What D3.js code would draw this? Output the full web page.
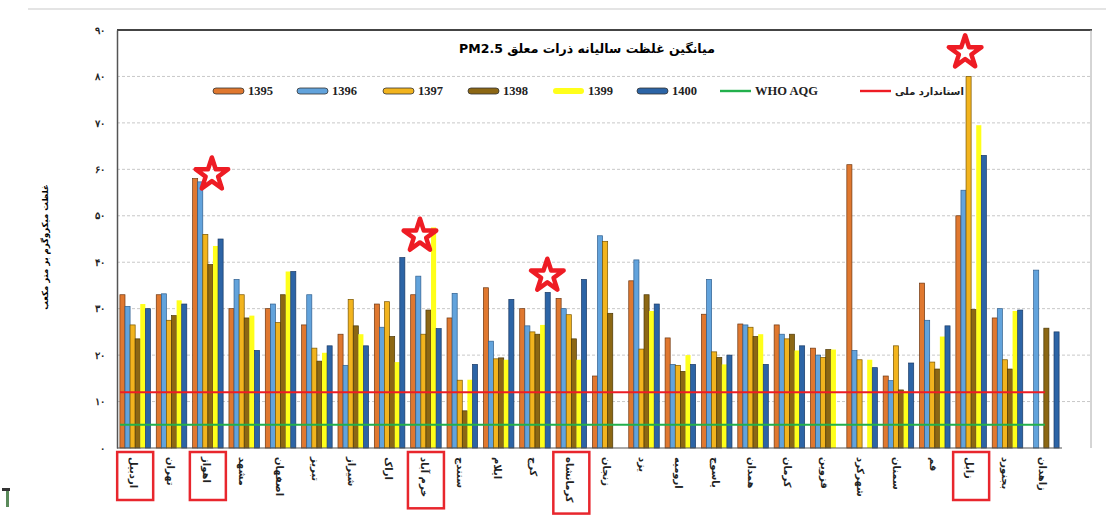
<!DOCTYPE html>
<html lang="fa">
<head>
<meta charset="utf-8">
<script src="https://cdn.jsdelivr.net/npm/d3@7/dist/d3.min.js"></script>
<style>
  body { margin: 0; background: #fff; }
  svg { display: block; font-family: "DejaVu Sans", "Noto Sans", sans-serif; }
</style>
</head>
<body>
<svg id="chart" width="1106" height="515"></svg>
<script>
// cities along the x axis
const cities = [
  "اردبیل", "تهران", "اهواز", "مشهد", "اصفهان", "تبریز", "شیراز", "اراک",
  "خرم آباد", "سنندج", "ایلام", "کرج", "کرمانشاه", "زنجان", "یزد", "ارومیه",
  "یاسوج", "همدان", "کرمان", "قزوین", "شهرکرد", "سمنان", "قم", "زابل",
  "بجنورد", "زاهدان"
];
const years = ["1395", "1396", "1397", "1398", "1399", "1400"];

// annual PM2.5 mean per year (null = no data)
const v1395 = [33, 33, 58, 30, 30, 26.5, 24.5, 31, 33, 28, 34.5, 30, 32.2, 15.5, 36, 23.7, 28.8, 26.7, 26.5, 21.5, 61, 15.5, 35.5, 50, 28, null];
const v1396 = [30.5, 33.2, 57.3, 36.3, 31, 33, 17.8, 26, 37, 33.3, 23, 26.3, 30, 45.7, 40.5, 18, 36.3, 26.5, 24.5, 20, 21, 14.5, 27.5, 55.5, 30, 38.3];
const v1397 = [26.5, 27.5, 46, 33, 27, 21.5, 32, 31.5, 24.5, 14.6, 19.2, 25, 28.7, 44.5, 21.3, 17.8, 20.7, 26, 23.5, 19.5, 19, 22, 18.5, 80, 19, null];
const v1398 = [23.5, 28.5, 39.5, 28, 33, 18.7, 26.3, 24, 29.7, 8, 19.4, 24.5, 23.5, 29, 33, 16.5, 19.5, 24, 24.5, 21.2, null, 12.5, 17, 29.8, 17, 25.8];
const v1399 = [31, 31.8, 43.5, 28.5, 38, 20.5, 24.5, 18.5, 47.5, 14.7, 19, 26.5, 19, null, 29.5, 20, 18, 24.5, 21, 21.2, 19, 12.3, 24, 69.5, 29.5, null];
const v1400 = [30, 31, 45, 21, 38, 22, 22, 41, 25.7, 18, 32, 33.5, 36.3, null, 31, 18, 20, 18, 22, null, 17.3, 18.3, 26.3, 63, 29.7, 25];
const series = [v1395, v1396, v1397, v1398, v1399, v1400];

// reference lines
const whoAqg = 5;
const nationalStd = 12;
const yTicks = [0, 10, 20, 30, 40, 50, 60, 70, 80, 90];
const marked = ["اردبیل", "اهواز", "خرم آباد", "کرمانشاه", "زابل"];
// star annotations: city, height on the value axis, sideways nudge (px)
const starred = [
  { city: "اهواز", value: 59.3, nudge: 4 },
  { city: "خرم آباد", value: 46.1, nudge: -6 },
  { city: "کرمانشاه", value: 37.5, nudge: -24 },
  { city: "زابل", value: 85.6, nudge: -6 }
];

const fills = ["#E0782F", "#62A3DC", "#F2B41E", "#8C6714", "#FFFF1A", "#2C64A6"];
const strokes = ["#6e3610", "#2f5f8f", "#7a5600", "#4d3805", "none", "#1a3a66"];

const svg = d3.select("#chart");
const plotLeft = 117, plotRight = 1062, plotTop = 30, plotBottom = 448;

const x = d3.scaleBand().domain(cities).range([plotLeft, plotRight]).paddingInner(0.16).paddingOuter(0.08);
const xs = d3.scaleBand().domain(d3.range(years.length)).range([0, x.bandwidth()]);
const y = d3.scaleLinear().domain([0, 90]).range([plotBottom, plotTop]);
const xc = (c) => x(c) + x.bandwidth() / 2;

const faDigits = (n) => String(n).replace(/\d/g, (d) => "۰۱۲۳۴۵۶۷۸۹"[d]);

// page separator line
svg.append("line").attr("x1", 28).attr("x2", 1106).attr("y1", 9).attr("y2", 9)
  .attr("stroke", "#e4e4e4").attr("stroke-width", 2);

// gridlines
svg.append("g").selectAll("line").data(yTicks.filter((t) => t > 0 && t < 90)).join("line")
  .attr("x1", plotLeft).attr("x2", 1090)
  .attr("y1", (d) => y(d)).attr("y2", (d) => y(d))
  .attr("stroke", "#c8c8c8").attr("stroke-dasharray", "3,2");

// frame
svg.append("line").attr("x1", plotLeft).attr("x2", 1092).attr("y1", y(90)).attr("y2", y(90))
  .attr("stroke", "#444").attr("stroke-width", 2);
svg.append("line").attr("x1", 1091).attr("x2", 1091).attr("y1", y(90)).attr("y2", plotBottom)
  .attr("stroke", "#aaa").attr("stroke-width", 1);

// y axis
const yAxis = svg.append("g").attr("transform", `translate(${plotLeft},0)`)
  .call(d3.axisLeft(y).tickValues(yTicks).tickSize(0).tickPadding(12).tickFormat(faDigits));
yAxis.select(".domain").attr("stroke", "#555").attr("stroke-width", 1.5);
yAxis.selectAll("text").attr("font-size", 10).attr("font-weight", "bold").attr("fill", "#222");

svg.append("text")
  .attr("transform", `translate(48,247) rotate(-90)`)
  .attr("text-anchor", "middle").attr("font-size", 8.5).attr("font-weight", "bold")
  .text("غلظت میکروگرم بر متر مکعب");

// bars
const groups = svg.append("g").selectAll("g").data(cities).join("g")
  .attr("transform", (d) => `translate(${x(d)},0)`);

groups.selectAll("rect")
  .data((c, i) => series.map((s, k) => ({ k, v: s[i] })).filter((d) => d.v != null))
  .join("rect")
  .attr("x", (d) => xs(d.k))
  .attr("width", xs.bandwidth())
  .attr("y", (d) => y(d.v))
  .attr("height", (d) => plotBottom - y(d.v))
  .attr("fill", (d) => fills[d.k])
  .attr("stroke", (d) => strokes[d.k])
  .attr("stroke-width", 0.7);

// x axis
svg.append("line").attr("x1", plotLeft).attr("x2", plotRight).attr("y1", plotBottom).attr("y2", plotBottom)
  .attr("stroke", "#555").attr("stroke-width", 1.2);

const xLabels = svg.append("g").selectAll("text").data(cities).join("text")
  .attr("transform", (d) => `translate(${xc(d) - 2},457) rotate(90)`)
  .attr("text-anchor", "start").attr("dominant-baseline", "middle")
  .attr("font-size", 10).attr("font-weight", "bold").attr("fill", "#222")
  .text((d) => d);

// red boxes around highlighted city names
const labelLen = {};
xLabels.each(function (d) { labelLen[d] = this.getComputedTextLength(); });
svg.append("g").selectAll("rect").data(marked).join("rect")
  .attr("x", (d) => xc(d) - 18)
  .attr("y", 452)
  .attr("width", 36)
  .attr("height", (d) => Math.max(48, labelLen[d] + 16))
  .attr("fill", "none").attr("stroke", "#e8262d").attr("stroke-width", 2.5);

// reference lines
svg.append("line").attr("x1", plotLeft + 3).attr("x2", 1045)
  .attr("y1", y(nationalStd)).attr("y2", y(nationalStd))
  .attr("stroke", "#ee1c24").attr("stroke-width", 2);
svg.append("line").attr("x1", plotLeft + 3).attr("x2", 1045)
  .attr("y1", y(whoAqg)).attr("y2", y(whoAqg))
  .attr("stroke", "#22b04c").attr("stroke-width", 2);

// stars
const star = d3.symbol().type(d3.symbolStar).size(330);
svg.append("g").selectAll("path").data(starred).join("path")
  .attr("d", star)
  .attr("transform", (d) => `translate(${xc(d.city) + d.nudge},${y(d.value) + 2})`)
  .attr("fill", "none").attr("stroke", "#ee1c24").attr("stroke-width", 4.5)
  .attr("stroke-linejoin", "round");

// title
svg.append("text").attr("x", 587).attr("y", 53).attr("text-anchor", "middle")
  .attr("direction", "rtl")
  .attr("font-size", 12.5).attr("font-weight", "bold")
  .text("میانگین غلظت سالیانه ذرات معلق PM2.5");

// legend
const legendItems = years.map((yr, k) => ({ label: yr, fill: fills[k], stroke: strokes[k], bar: true }))
  .concat([
    { label: "WHO AQG", fill: "#22b04c", bar: false, serif: true },
    { label: "استاندارد ملی", fill: "#ee1c24", bar: false }
  ]);
const legendX = [213, 297, 383, 468, 553, 637, 720, 860];
const lg = svg.append("g").selectAll("g").data(legendItems).join("g")
  .attr("transform", (d, i) => `translate(${legendX[i]},91)`);
lg.append("rect")
  .attr("x", 0).attr("y", (d) => (d.bar ? -3 : -1.2))
  .attr("width", 31).attr("height", (d) => (d.bar ? 6 : 2.4))
  .attr("rx", (d) => (d.bar ? 3 : 0))
  .attr("fill", (d) => d.fill)
  .attr("stroke", (d) => (d.bar && d.stroke !== "none" ? "#333" : "none"))
  .attr("stroke-width", 0.8);
lg.append("text").attr("x", 35).attr("y", 1).attr("dominant-baseline", "middle")
  .attr("font-family", (d) => (d.bar || d.serif ? "Liberation Serif, serif" : null))
  .attr("font-size", (d) => (d.bar || d.serif ? 12.5 : 10))
  .attr("font-weight", "bold").attr("fill", "#222")
  .text((d) => d.label);

// small mark at lower left edge
svg.append("rect").attr("x", 2).attr("y", 488).attr("width", 8).attr("height", 3).attr("fill", "#333");
svg.append("rect").attr("x", 6).attr("y", 491).attr("width", 3).attr("height", 16).attr("fill", "#5a8a5a");
</script>
</body>
</html>
